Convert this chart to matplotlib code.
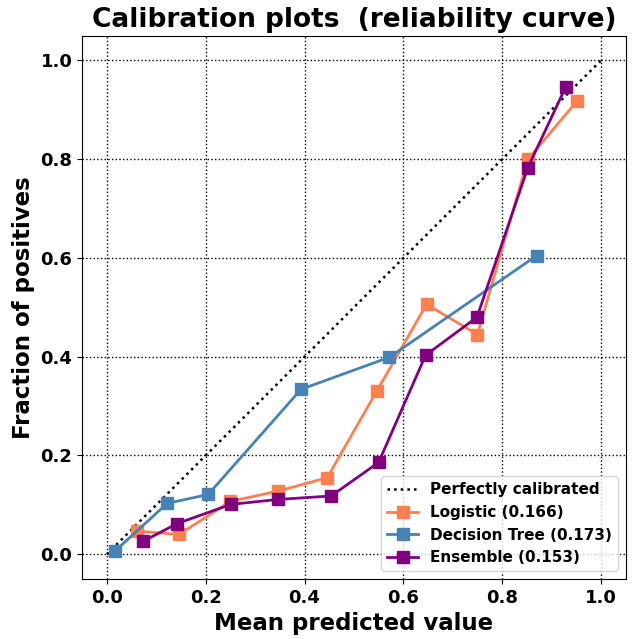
import numpy as np
import matplotlib.pyplot as plt

# calibration curves
log_x = [0.061, 0.146, 0.250, 0.347, 0.446, 0.546, 0.647, 0.750, 0.852, 0.951]
log_y = [0.047, 0.040, 0.107, 0.128, 0.155, 0.330, 0.506, 0.445, 0.800, 0.917]

tree_x = [0.016, 0.122, 0.205, 0.393, 0.572, 0.870]
tree_y = [0.006, 0.103, 0.121, 0.334, 0.399, 0.605]

ens_x = [0.073, 0.142, 0.251, 0.347, 0.454, 0.550, 0.645, 0.749, 0.852, 0.929]
ens_y = [0.026, 0.062, 0.101, 0.111, 0.118, 0.186, 0.403, 0.480, 0.783, 0.947]

labels = ["Logistic (0.166)", "Decision Tree (0.173)", "Ensemble (0.153)"]
colors = ["coral", "steelblue", "purple"]

plt.rcParams['font.weight'] = 'bold'
fig, ax = plt.subplots(figsize=(6.32, 6.39), dpi=100)
fig.subplots_adjust(left=0.130, right=0.990, top=0.944, bottom=0.094)

ax.plot([0, 1], [0, 1], "k:", lw=1.8, label="Perfectly calibrated")
for xs, ys, lab, c in zip([log_x, tree_x, ens_x], [log_y, tree_y, ens_y], labels, colors):
    ax.plot(xs, ys, "s-", color=c, lw=2, ms=8.5, label=lab)

ax.set_xlim(-0.05, 1.05)
ax.set_ylim(-0.05, 1.05)
ax.grid(True, linestyle=":", color="black", lw=1)
ax.set_xlabel("Mean predicted value", fontsize=16.5, fontweight="bold")
ax.set_ylabel("Fraction of positives", fontsize=16.5, fontweight="bold")
ax.set_title("Calibration plots  (reliability curve)", fontsize=19, fontweight="bold")
ax.tick_params(labelsize=13)
for t in ax.get_xticklabels() + ax.get_yticklabels():
    t.set_fontweight("bold")
ax.legend(loc="lower right", prop={"size": 11, "weight": "bold"})

fig.savefig("out.png")
